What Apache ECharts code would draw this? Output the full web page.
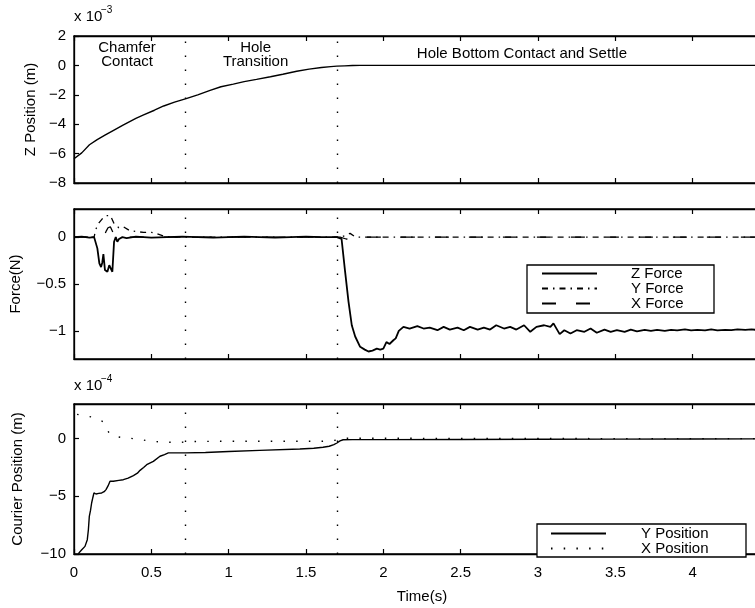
<!DOCTYPE html>
<html><head><meta charset="utf-8">
<script src="https://cdn.jsdelivr.net/npm/echarts@6/dist/echarts.min.js"></script>
<style>html,body{margin:0;padding:0;background:#fff}#c{width:755px;height:608px}</style>
</head><body><div id="c"></div>
<script>
// ---------------- data ----------------
const phaseBoundaries = [0.72, 1.7];
const phaseNames = ['Chamfer\nContact', 'Hole\nTransition', 'Hole Bottom Contact and Settle'];
const phaseLabelT = [0.343, 1.174, 2.896];

const xTicks = [0, 0.5, 1, 1.5, 2, 2.5, 3, 3.5, 4];
const zPosTicks = [-8, -6, -4, -2, 0, 2];
const forceTicks = [-1, -0.5, 0];
const courierTicks = [-10, -5, 0];

// Z position (x 1e-3 m)
const zPosT = [0, 0.05, 0.10, 0.15, 0.20, 0.25, 0.32, 0.40, 0.45, 0.52, 0.58, 0.65, 0.72, 0.80, 0.88, 0.95, 1.03, 1.10, 1.18, 1.27, 1.35, 1.44, 1.52, 1.60, 1.66, 1.70, 1.75, 1.80, 1.85, 1.95, 3.0, 4.5];
const zPosV = [-6.35, -5.95, -5.4, -5.05, -4.75, -4.45, -4.05, -3.6, -3.37, -3.05, -2.76, -2.5, -2.28, -2.0, -1.7, -1.45, -1.27, -1.1, -0.95, -0.77, -0.6, -0.4, -0.25, -0.14, -0.08, -0.05, -0.03, -0.01, 0, 0, 0, 0];

// Z force (N)
const zForceT = [0, 0.05, 0.10, 0.13, 0.136, 0.151, 0.164, 0.175, 0.183, 0.19, 0.20, 0.216, 0.228, 0.237, 0.248, 0.259, 0.27, 0.28, 0.291, 0.313, 0.34, 0.40, 0.5, 0.6, 0.7, 0.8, 0.9, 1.0, 1.1, 1.2, 1.3, 1.4, 1.5, 1.6, 1.7, 1.73, 1.753, 1.775, 1.796, 1.818, 1.85, 1.88, 1.904, 1.93, 1.958, 1.98, 2.0, 2.02, 2.04, 2.065, 2.08, 2.10,
  2.13, 2.17, 2.22, 2.26, 2.30, 2.35, 2.39, 2.43, 2.48, 2.52, 2.56, 2.61, 2.65, 2.69, 2.73, 2.78, 2.82, 2.86, 2.91, 2.95, 2.99, 3.04, 3.08, 3.10, 3.14, 3.17, 3.21, 3.25, 3.30, 3.34, 3.38, 3.43, 3.47, 3.51, 3.56, 3.60, 3.64, 3.69, 3.73, 3.77, 3.82, 3.86, 3.90, 3.95, 3.99, 4.03, 4.08, 4.12, 4.16, 4.21, 4.25, 4.29, 4.34, 4.38, 4.42, 4.47, 4.5];
const zForceV = [0, 0.005, -0.005, 0, 0, -0.12, -0.28, -0.32, -0.27, -0.18, -0.35, -0.37, -0.30, -0.32, -0.37, -0.05, 0, -0.05, -0.02, 0, -0.01, 0.005, -0.005, 0, 0.005, 0, -0.005, 0, 0.005, 0, -0.005, 0, 0.005, 0, 0, -0.02, -0.37, -0.69, -0.94, -1.06, -1.17, -1.2, -1.22, -1.21, -1.19, -1.2, -1.19, -1.12, -1.14, -1.1, -1.08, -1.0,
  -0.957, -0.975, -0.95, -0.975, -0.965, -0.993, -0.957, -0.986, -0.965, -0.993, -0.957, -0.986, -0.965, -0.986, -0.94, -0.975, -0.957, -0.986, -0.94, -1.01, -0.957, -0.94, -0.957, -0.92, -1.035, -0.993, -1.028, -0.993, -1.01, -0.975, -1.02, -0.986, -1.01, -0.993, -1.01, -0.986, -1.005, -0.99, -1.0, -0.99, -1.0, -0.99, -0.995, -0.985, -0.995, -0.99, -0.995, -0.985, -0.995, -0.99, -0.993, -0.985, -0.99, -0.985, -0.99, -0.985, -0.99];

// Y force (N)
const yForceT = [0, 0.13, 0.14, 0.16, 0.18, 0.21, 0.235, 0.26, 0.29, 0.32, 0.36, 0.40, 0.45, 0.50, 0.53, 0.58, 0.65, 1.0, 1.5, 1.72, 1.76, 1.785, 1.82, 2.5, 3.5, 4.5];
const yForceV = [0, 0, 0.08, 0.15, 0.19, 0.23, 0.23, 0.14, 0.10, 0.11, 0.07, 0.06, 0.05, 0.05, 0.04, 0.01, 0, 0, 0, 0, 0.02, 0.04, 0, 0, 0, 0];

// X force (N)
const xForceT = [0, 0.19, 0.20, 0.21, 0.22, 0.235, 0.245, 0.255, 0.27, 0.3, 1.0, 1.72, 1.76, 1.80, 1.82, 1.85, 2.5, 3.5, 4.5];
const xForceV = [0, 0, 0.02, 0.07, 0.10, 0.11, 0.09, 0.04, 0, 0, 0, 0, -0.02, -0.03, -0.02, 0, 0, 0, 0];

// Y position (x 1e-4 m)
const yPosT = [0.028, 0.05, 0.071, 0.086, 0.093, 0.099, 0.107, 0.114, 0.122, 0.129, 0.142, 0.16, 0.179, 0.195, 0.207, 0.22, 0.233, 0.254, 0.29, 0.319, 0.35, 0.384, 0.41, 0.427, 0.45, 0.47, 0.513, 0.556, 0.585, 0.61, 0.72, 0.85, 1.0, 1.2, 1.46, 1.55, 1.61, 1.65, 1.68, 1.70, 1.72, 1.74, 1.8, 2.0, 2.5, 3.0, 3.5, 4.0, 4.5];
const yPosV = [-9.97, -9.63, -9.34, -8.76, -7.9, -6.74, -6.2, -5.58, -5.1, -4.71, -4.8, -4.75, -4.71, -4.6, -4.42, -4.1, -3.7, -3.7, -3.62, -3.56, -3.42, -3.2, -3.0, -2.75, -2.5, -2.26, -1.97, -1.53, -1.38, -1.24, -1.24, -1.2, -1.12, -1.02, -0.9, -0.84, -0.75, -0.66, -0.52, -0.38, -0.2, -0.1, -0.09, -0.09, -0.08, -0.06, -0.04, -0.03, -0.02];

// X position (x 1e-4 m)
const xPosT = [0.02, 0.06, 0.114, 0.15, 0.19, 0.21, 0.228, 0.265, 0.30, 0.35, 0.427, 0.509, 0.589, 0.675, 0.72, 0.755, 0.85, 1.0, 1.2, 1.4, 1.6, 1.66, 1.70, 1.73, 1.76, 1.8, 2.0, 2.5, 3.0, 3.5, 4.0, 4.5];
const xPosV = [2.1, 2.0, 1.88, 1.7, 1.45, 1.0, 0.43, 0.2, 0.12, 0.06, -0.09, -0.23, -0.32, -0.32, -0.3, -0.26, -0.24, -0.23, -0.23, -0.23, -0.23, -0.2, -0.12, -0.02, 0.03, 0.04, 0.03, 0.02, 0.01, 0, 0, 0];

// ---------------- chart ----------------
const zip = (a, b) => a.map((t, i) => [t, b[i]]);
const FONT = '"Liberation Sans", Arial, Helvetica, sans-serif';
const minus = v => String(v).replace('-', '\u2212');
const grids = [
  { left: 74, right: -15, top: 36, height: 147 },
  { left: 74, right: -15, top: 209, height: 150 },
  { left: 74, right: -15, top: 404, height: 150 }
].map(g => Object.assign(g, { show: true, borderColor: '#000', borderWidth: 1.3, backgroundColor: 'transparent', outerBoundsMode: 'none' }));

function xAx(gi, pos, labels) {
  return {
    type: 'value', gridIndex: gi, position: pos, min: 0, max: 4.5,
    axisLine: { show: true, onZero: false, lineStyle: { color: '#000', width: 1.3 } },
    axisTick: { show: true, inside: true, length: 5, customValues: xTicks, lineStyle: { color: '#000', width: 1.2 } },
    axisLabel: { show: labels, customValues: xTicks, margin: 11, fontSize: 15, fontFamily: FONT, color: '#000', formatter: v => minus(v) },
    splitLine: { show: false },
    name: labels ? 'Time(s)' : '', nameLocation: 'middle', nameGap: 35,
    nameTextStyle: { fontSize: 15, fontFamily: FONT, color: '#000' }
  };
}
function yAx(gi, min, max, ticks, name, gap) {
  return {
    type: 'value', gridIndex: gi, min: min, max: max,
    axisLine: { show: true, onZero: false, lineStyle: { color: '#000', width: 1.3 } },
    axisTick: { show: true, inside: true, length: 5, customValues: ticks, lineStyle: { color: '#000', width: 1.2 } },
    axisLabel: { customValues: ticks, margin: 8, fontSize: 15, fontFamily: FONT, color: '#000', formatter: v => minus(v) },
    splitLine: { show: false },
    name: name, nameLocation: 'middle', nameGap: gap,
    nameTextStyle: { fontSize: 15, fontFamily: FONT, color: '#000' }
  };
}
const vLines = {
  silent: true, symbol: ['none', 'none'], animation: false,
  label: { show: false },
  lineStyle: { color: '#000', width: 1.4, type: [1.5, 12.5] },
  emphasis: { disabled: true },
  data: phaseBoundaries.map(x => ({ xAxis: x }))
};
function lineSeries(name, xi, yi, data, width, type, extra) {
  return Object.assign({
    name: name, type: 'line', xAxisIndex: xi, yAxisIndex: yi, data: data,
    symbol: 'none', showSymbol: false, animation: false, silent: true,
    lineStyle: { color: '#000', width: width, type: type },
    itemStyle: { color: '#000' },
    emphasis: { disabled: true }
  }, extra || {});
}
const legendCommon = {
  orient: 'vertical', itemWidth: 55, itemHeight: 10, itemGap: 0,
  backgroundColor: '#fff', borderColor: '#000', borderWidth: 1.3, borderRadius: 0,
  selectedMode: false,
  itemStyle: { color: 'rgba(0,0,0,0)', borderWidth: 0 },
  lineStyle: { color: '#000' }
};

const chart = echarts.init(document.getElementById('c'), null, { renderer: 'canvas' });
chart.setOption({
  backgroundColor: '#fff',
  animation: false,
  textStyle: { fontFamily: FONT },
  grid: grids,
  xAxis: [xAx(0, 'bottom', false), xAx(0, 'top', false), xAx(1, 'bottom', false), xAx(1, 'top', false), xAx(2, 'bottom', true), xAx(2, 'top', false)],
  yAxis: [
    yAx(0, -8, 2, zPosTicks, 'Z Position (m)', 32),
    yAx(1, -1.3, 0.3, forceTicks, 'Force(N)', 51),
    yAx(2, -10, 3, courierTicks, 'Courier Position (m)', 49)
  ],
  legend: [
    Object.assign({}, legendCommon, {
      left: 527, top: 265, padding: [1, 10, 2, 14],
      data: ['Z Force', 'Y Force', 'X Force'],
      textStyle: { fontSize: 15, fontFamily: FONT, color: '#000', lineHeight: 12.8, width: 73, padding: [0, 0, 0, 29] }
    }),
    Object.assign({}, legendCommon, {
      left: 537, top: 524, padding: [2, 8, 1, 13],
      data: ['Y Position', 'X Position'],
      textStyle: { fontSize: 15, fontFamily: FONT, color: '#000', lineHeight: 12.4, width: 97, padding: [0, 0, 0, 30] }
    })
  ],
  graphic: [
    { type: 'text', left: 74, top: 9, style: { text: 'x 10', font: '15px ' + FONT, fill: '#000' } },
    { type: 'text', left: 101, top: 5, style: { text: '\u22123', font: '10px ' + FONT, fill: '#000' } },
    { type: 'text', left: 74, top: 378, style: { text: 'x 10', font: '15px ' + FONT, fill: '#000' } },
    { type: 'text', left: 101, top: 374, style: { text: '\u22124', font: '10px ' + FONT, fill: '#000' } }
  ],
  series: [
    lineSeries('Z Position', 0, 0, zip(zPosT, zPosV), 1.4, 'solid', { markLine: vLines }),
    {
      name: 'phases', type: 'scatter', xAxisIndex: 0, yAxisIndex: 0, silent: true, animation: false,
      symbol: 'circle', symbolSize: 0, itemStyle: { color: '#000', opacity: 1 },
      data: phaseNames.map((n, i) => [phaseLabelT[i], i < 2 ? 0.72 : 0.77, n]),
      label: { show: true, position: 'inside', formatter: p => p.value[2], fontSize: 15, lineHeight: 13.5, fontFamily: FONT, color: '#000', opacity: 1, textBorderWidth: 0, align: 'center', verticalAlign: 'middle' }
    },
    lineSeries('Z Force', 2, 1, zip(zForceT, zForceV), 1.8, 'solid', { markLine: vLines }),
    lineSeries('Y Force', 2, 1, zip(yForceT, yForceV), 1.3, [6, 5, 1.5, 5]),
    lineSeries('X Force', 2, 1, zip(xForceT, xForceV), 1.3, [14, 20]),
    lineSeries('Y Position', 4, 2, zip(yPosT, yPosV), 1.4, 'solid', { markLine: vLines }),
    lineSeries('X Position', 4, 2, zip(xPosT, xPosV), 1.4, [1.5, 11.2])
  ]
});
</script>
</body></html>
